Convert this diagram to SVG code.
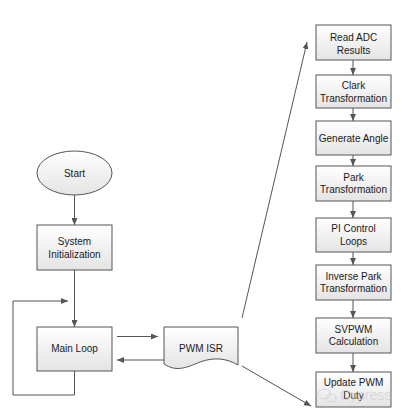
<svg xmlns="http://www.w3.org/2000/svg" width="407" height="417" viewBox="0 0 407 417">
<defs>
<linearGradient id="g" x1="0" y1="0" x2="0" y2="1">
<stop offset="0" stop-color="#ffffff"/>
<stop offset="1" stop-color="#e4e4e4"/>
</linearGradient>
<marker id="a" markerWidth="7" markerHeight="6" refX="7" refY="3" orient="auto" markerUnits="userSpaceOnUse">
<path d="M0,0 L7,3 L0,6 Z" fill="#555"/>
</marker>
</defs>
<style>
.n{fill:url(#g);stroke:#555;stroke-width:1}
.t{font-family:"Liberation Sans",Arial,sans-serif;font-size:10px;fill:#1a1a1a;text-anchor:middle}
.c{fill:none;stroke:#555;stroke-width:1}
.w{font-family:"Liberation Sans",Arial,sans-serif;font-size:14px;fill:#cfcfcf;opacity:0.8}
</style>
<rect width="407" height="417" fill="#ffffff"/>
<g id="connectors">
<line class="c" x1="74.5" y1="195" x2="74.5" y2="225" marker-end="url(#a)"/>
<line class="c" x1="74.5" y1="270" x2="74.5" y2="327" marker-end="url(#a)"/>
<polyline class="c" points="74.5,371 74.5,395 13,395 13,301 68,301" marker-end="url(#a)"/>
<line class="c" x1="117" y1="336.5" x2="158" y2="336.5" marker-end="url(#a)"/>
<line class="c" x1="164" y1="360" x2="117" y2="360" marker-end="url(#a)"/>
<line class="c" x1="242" y1="318" x2="307" y2="42" marker-end="url(#a)"/>
<line class="c" x1="242" y1="366" x2="311" y2="406" marker-end="url(#a)"/>
<line class="c" x1="353" y1="60" x2="353" y2="75" marker-end="url(#a)"/>
<line class="c" x1="353" y1="108" x2="353" y2="121" marker-end="url(#a)"/>
<line class="c" x1="353" y1="155" x2="353" y2="166" marker-end="url(#a)"/>
<line class="c" x1="353" y1="201" x2="353" y2="218" marker-end="url(#a)"/>
<line class="c" x1="353" y1="252" x2="353" y2="265" marker-end="url(#a)"/>
<line class="c" x1="353" y1="300" x2="353" y2="318" marker-end="url(#a)"/>
<line class="c" x1="353" y1="353" x2="353" y2="372" marker-end="url(#a)"/>
</g>
<g id="start">
<ellipse class="n" cx="74.5" cy="173" rx="37.5" ry="22"/>
<text class="t" x="74.5" y="176.5">Start</text>
</g>
<g id="sysinit">
<rect class="n" x="37" y="225" width="75" height="45"/>
<text class="t" x="74.5" y="245">System</text>
<text class="t" x="74.5" y="257.5">Initialization</text>
</g>
<g id="mainloop">
<rect class="n" x="37" y="327" width="75" height="44"/>
<text class="t" x="74.5" y="352">Main Loop</text>
</g>
<g id="pwmisr">
<path class="n" d="M164,327 L238,327 L238,365 C226,358 214,357 200,362 C186,368 176,372 164,364 Z"/>
<text class="t" x="201" y="352">PWM ISR</text>
</g>
<g id="readadc">
<rect class="n" x="316" y="25" width="75" height="35"/>
<text class="t" x="353.5" y="40.5">Read  ADC</text>
<text class="t" x="353.5" y="53.5">Results</text>
</g>
<g id="clark">
<rect class="n" x="316" y="75" width="75" height="33"/>
<text class="t" x="353.5" y="89">Clark</text>
<text class="t" x="353.5" y="101.5">Transformation</text>
</g>
<g id="genangle">
<rect class="n" x="316" y="121" width="75" height="34"/>
<text class="t" x="353.5" y="141.5">Generate Angle</text>
</g>
<g id="park">
<rect class="n" x="316" y="166" width="75" height="35"/>
<text class="t" x="353.5" y="180.5">Park</text>
<text class="t" x="353.5" y="192.5">Transformation</text>
</g>
<g id="picontrol">
<rect class="n" x="316" y="218" width="75" height="34"/>
<text class="t" x="353.5" y="232">PI Control</text>
<text class="t" x="353.5" y="244.5">Loops</text>
</g>
<g id="invpark">
<rect class="n" x="316" y="265" width="75" height="35"/>
<text class="t" x="353.5" y="279.5">Inverse Park</text>
<text class="t" x="353.5" y="292">Transformation</text>
</g>
<g id="svpwm">
<rect class="n" x="316" y="318" width="75" height="35"/>
<text class="t" x="353.5" y="332.5">SVPWM</text>
<text class="t" x="353.5" y="345">Calculation</text>
</g>
<g id="updatepwm">
<rect class="n" x="316" y="372" width="75" height="35"/>
<text class="t" x="353.5" y="386">Update PWM</text>
<text class="t" x="353.5" y="398.5">Duty</text>
</g>
<g id="watermark" opacity="0.8">
<ellipse cx="324" cy="394" rx="6" ry="5" fill="none" stroke="#d0d0d0"/>
<ellipse cx="331" cy="398" rx="5" ry="4" fill="none" stroke="#d0d0d0"/>
<text class="w" x="340" y="400">Cypress</text>
</g>
</svg>
